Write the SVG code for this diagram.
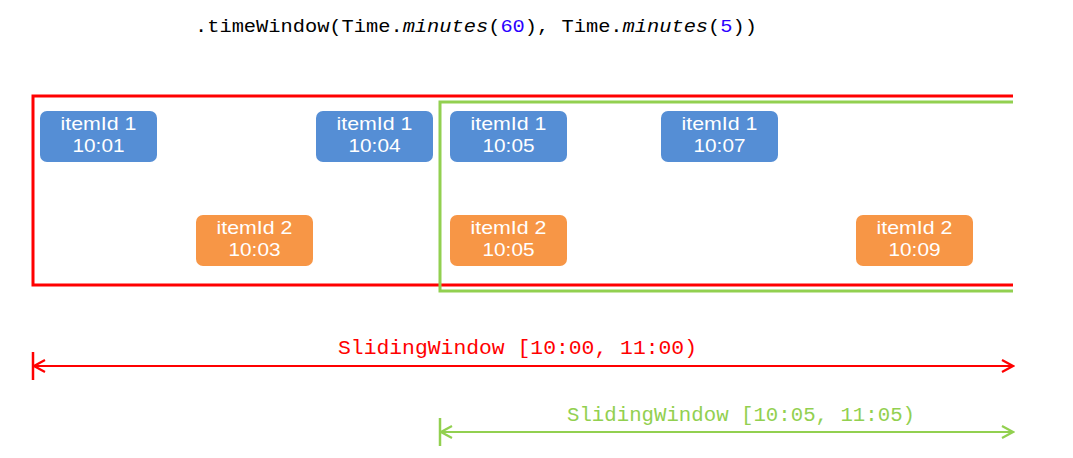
<svg xmlns="http://www.w3.org/2000/svg" width="1073" height="458" viewBox="0 0 1073 458">
<defs>
<style>
.code{font-family:"Liberation Mono","DejaVu Sans Mono",monospace;font-size:18.3px;fill:#000}
.num{fill:#2a00ff}
.it{font-style:italic}
.box{stroke:none}
.blue{fill:#558ed5}
.orange{fill:#f79646}
.lbl{font-family:"Liberation Sans",Arial,sans-serif;font-size:19px;fill:#fff;text-anchor:middle}
.wlbl{font-family:"Liberation Mono","DejaVu Sans Mono",monospace;font-size:20px}
</style>
<marker id="arR" markerWidth="14" markerHeight="14" refX="12" refY="7" orient="auto-start-reverse" markerUnits="userSpaceOnUse">
<path d="M1,1 L12,7 L1,13" fill="none" stroke="#ff0000" stroke-width="2.2"/>
</marker>
<marker id="arG" markerWidth="14" markerHeight="14" refX="12" refY="7" orient="auto-start-reverse" markerUnits="userSpaceOnUse">
<path d="M1,1 L12,7 L1,13" fill="none" stroke="#92d050" stroke-width="2.2"/>
</marker>
</defs>
<rect width="1073" height="458" fill="#fff"/>
<text class="code" x="195" y="32" textLength="562" lengthAdjust="spacingAndGlyphs">.timeWindow(Time.<tspan class="it">minutes</tspan>(<tspan class="num">60</tspan>), Time.<tspan class="it">minutes</tspan>(<tspan class="num">5</tspan>))</text>

<g id="window1">
<path d="M1013,96 L33,96 L33,285 L1013,285" fill="none" stroke="#ff0000" stroke-width="3"/>
</g>
<g id="window2">
<path d="M1013,102 L440,102 L440,291 L1013,291" fill="none" stroke="#92d050" stroke-width="3"/>
</g>

<g id="n1"><rect class="box blue" x="40" y="111" width="117" height="51" rx="7"/><text class="lbl" x="98.5" y="130" textLength="76" lengthAdjust="spacingAndGlyphs">itemId 1</text><text class="lbl" x="98.5" y="152" textLength="52" lengthAdjust="spacingAndGlyphs">10:01</text></g>
<g id="n2"><rect class="box blue" x="316" y="111" width="117" height="51" rx="7"/><text class="lbl" x="374.5" y="130" textLength="76" lengthAdjust="spacingAndGlyphs">itemId 1</text><text class="lbl" x="374.5" y="152" textLength="52" lengthAdjust="spacingAndGlyphs">10:04</text></g>
<g id="n3"><rect class="box blue" x="450" y="111" width="117" height="51" rx="7"/><text class="lbl" x="508.5" y="130" textLength="76" lengthAdjust="spacingAndGlyphs">itemId 1</text><text class="lbl" x="508.5" y="152" textLength="52" lengthAdjust="spacingAndGlyphs">10:05</text></g>
<g id="n4"><rect class="box blue" x="661" y="111" width="117" height="51" rx="7"/><text class="lbl" x="719.5" y="130" textLength="76" lengthAdjust="spacingAndGlyphs">itemId 1</text><text class="lbl" x="719.5" y="152" textLength="52" lengthAdjust="spacingAndGlyphs">10:07</text></g>
<g id="n5"><rect class="box orange" x="196" y="215" width="117" height="51" rx="7"/><text class="lbl" x="254.5" y="234" textLength="76" lengthAdjust="spacingAndGlyphs">itemId 2</text><text class="lbl" x="254.5" y="256" textLength="52" lengthAdjust="spacingAndGlyphs">10:03</text></g>
<g id="n6"><rect class="box orange" x="450" y="215" width="117" height="51" rx="7"/><text class="lbl" x="508.5" y="234" textLength="76" lengthAdjust="spacingAndGlyphs">itemId 2</text><text class="lbl" x="508.5" y="256" textLength="52" lengthAdjust="spacingAndGlyphs">10:05</text></g>
<g id="n7"><rect class="box orange" x="856" y="215" width="117" height="51" rx="7"/><text class="lbl" x="914.5" y="234" textLength="76" lengthAdjust="spacingAndGlyphs">itemId 2</text><text class="lbl" x="914.5" y="256" textLength="52" lengthAdjust="spacingAndGlyphs">10:09</text></g>

<g id="connectors">
<line x1="33" y1="352" x2="33" y2="380" stroke="#ff0000" stroke-width="2.5"/>
<line x1="34" y1="366" x2="1013" y2="366" stroke="#ff0000" stroke-width="2.2" marker-start="url(#arR)" marker-end="url(#arR)"/>
<text class="wlbl" x="338" y="354" fill="#ff0000" textLength="359" lengthAdjust="spacingAndGlyphs">SlidingWindow [10:00, 11:00)</text>
<line x1="440" y1="418" x2="440" y2="446" stroke="#92d050" stroke-width="2.5"/>
<line x1="441" y1="432" x2="1013" y2="432" stroke="#92d050" stroke-width="2.2" marker-start="url(#arG)" marker-end="url(#arG)"/>
<text class="wlbl" x="567" y="421" fill="#92d050" textLength="348" lengthAdjust="spacingAndGlyphs">SlidingWindow [10:05, 11:05)</text>
</g>
</svg>
